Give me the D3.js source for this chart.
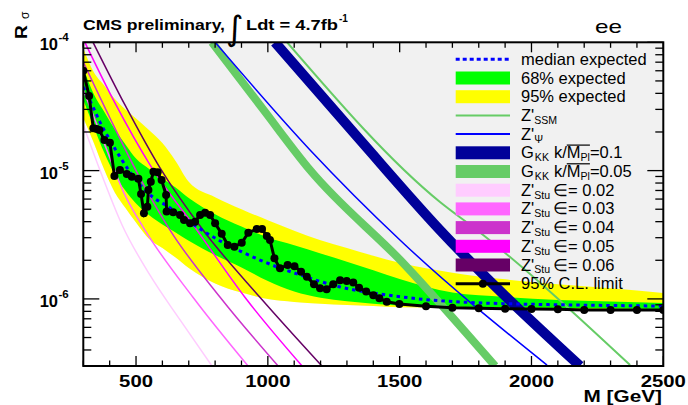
<!DOCTYPE html>
<html>
<head>
<meta charset="utf-8">
<script src="https://cdn.jsdelivr.net/npm/d3@7"></script>
<style>
  html, body { margin: 0; padding: 0; background: #fff; }
  svg { display: block; }
</style>
</head>
<body>
<svg id="chart" width="688" height="405"></svg>
<script>
// ---- observed 95% C.L. limit ----
const obsMass = [300, 322, 338, 351, 361, 380, 401, 418, 439, 465, 484, 509, 519, 530, 543, 547, 556, 566, 582, 597,
  614, 616, 641, 667, 682, 705, 724, 743, 762, 781, 800, 825, 848, 873, 901, 926, 958, 978, 996, 1008,
  1025, 1046, 1075, 1101, 1126, 1148, 1175, 1198, 1223, 1248, 1274, 1299, 1324, 1346, 1373, 1400, 1423, 1451, 1499, 1600,
  1700, 1800, 1900, 2000, 2100, 2200, 2300, 2400, 2500];
const obsLimit = [6.0e-5, 3.81e-5, 2.14e-5, 2.11e-5, 2.07e-5, 1.73e-5, 1.65e-5, 9.08e-6, 1.01e-5, 9.42e-6,
  8.96e-6, 8.65e-6, 6.57e-6, 4.65e-6, 5.23e-6, 7.06e-6, 8.19e-6, 9.79e-6, 9.70e-6, 8.45e-6,
  6.46e-6, 4.79e-6, 4.73e-6, 4.51e-6, 4.12e-6, 3.88e-6, 4.00e-6, 4.51e-6, 4.70e-6, 4.51e-6,
  3.88e-6, 3.22e-6, 2.63e-6, 2.55e-6, 2.74e-6, 3.28e-6, 3.51e-6, 3.51e-6, 3.09e-6, 2.88e-6,
  2.07e-6, 1.73e-6, 1.84e-6, 1.80e-6, 1.63e-6, 1.49e-6, 1.30e-6, 1.21e-6, 1.19e-6, 1.30e-6,
  1.40e-6, 1.38e-6, 1.34e-6, 1.22e-6, 1.14e-6, 1.07e-6, 1.01e-6, 9.51e-7, 9.12e-7, 8.75e-7,
  8.54e-7, 8.45e-7, 8.39e-7, 8.35e-7, 8.30e-7, 8.19e-7, 8.19e-7, 8.19e-7, 8.19e-7];

// ---- median expected limit ----
const medMass = [300, 337, 363, 401, 439, 477, 523, 564, 618, 667, 743, 819, 895, 970, 1046, 1122, 1198, 1274, 1350, 1426, 1502, 1615, 1767, 1957, 2184, 2500];
const medLimit = [4.48e-5, 3.13e-5, 2.39e-5, 1.73e-5, 1.28e-5, 9.75e-6, 7.45e-6, 6.22e-6, 5.30e-6, 4.51e-6, 3.51e-6, 2.83e-6, 2.36e-6, 2.01e-6, 1.74e-6, 1.54e-6, 1.37e-6, 1.24e-6, 1.15e-6, 1.09e-6, 1.04e-6, 9.81e-7, 9.38e-7, 9.12e-7, 8.95e-7, 8.80e-7];

// ---- expected bands (68% and 95%) ----
const bandMass = [300, 340, 380, 420, 460, 500, 550, 600, 650, 700, 800, 900, 1000, 1100, 1200, 1300, 1400, 1500, 1700, 1900, 2100, 2300, 2500];
const band95Up = [9.0e-5, 5.84e-5, 4.59e-5, 3.61e-5, 2.99e-5, 2.55e-5, 2.06e-5, 1.64e-5, 1.19e-5, 8.18e-6, 6.21e-6, 5.00e-6, 4.10e-6, 3.40e-6, 2.87e-6, 2.49e-6, 2.17e-6, 1.91e-6, 1.60e-6, 1.42e-6, 1.30e-6, 1.21e-6, 1.11e-6];
const band68Up = [6.31e-5, 3.94e-5, 2.86e-5, 2.09e-5, 1.60e-5, 1.24e-5, 1.03e-5, 8.69e-6, 7.38e-6, 6.11e-6, 4.56e-6, 3.66e-6, 3.01e-6, 2.62e-6, 2.26e-6, 1.95e-6, 1.67e-6, 1.43e-6, 1.12e-6, 1.035e-6, 9.8e-7, 9.54e-7, 9.29e-7];
const band68Down = [3.55e-5, 2.19e-5, 1.37e-5, 9.25e-6, 6.96e-6, 5.55e-6, 4.48e-6, 3.81e-6, 3.30e-6, 2.84e-6, 2.20e-6, 1.76e-6, 1.38e-6, 1.14e-6, 1.02e-6, 9.57e-7, 9.18e-7, 8.89e-7, 8.69e-7, 8.59e-7, 8.50e-7, 8.42e-7, 8.34e-7];
const band95Down = [2.57e-5, 1.64e-5, 1.01e-5, 6.73e-6, 5.12e-6, 3.94e-6, 2.93e-6, 2.49e-6, 2.10e-6, 1.74e-6, 1.32e-6, 1.12e-6, 9.97e-7, 9.46e-7, 9.18e-7, 8.95e-7, 8.81e-7, 8.61e-7, 8.53e-7, 8.44e-7, 8.34e-7, 8.27e-7, 8.19e-7];

// ---- model predictions ----
const zSsmMass = [1073, 1653, 1793, 2374];
const zSsmR = [1.0e-4, 5.69e-6, 3.44e-6, 3.05e-7];
const zPsiMass = [800, 1160, 1501, 2059];
const zPsiR = [1.0e-4, 1.45e-5, 2.88e-6, 3.05e-7];
const gkk01Mass = [1027, 1350, 1653, 2184];
const gkk01R = [1.0e-4, 1.73e-5, 3.44e-6, 3.0e-7];
const gkk005Mass = [788, 978, 1160, 1520, 1862];
const gkk005R = [1.0e-4, 3.08e-5, 1.01e-5, 1.84e-6, 3.0e-7];
const stu002Mass = [300, 363, 447, 553, 667, 788];
const stu002R = [2.27e-5, 1.01e-5, 3.77e-6, 1.53e-6, 6.86e-7, 3.0e-7];
const stu003Mass = [300, 382, 458, 534, 716, 925];
const stu003R = [4.25e-5, 1.58e-5, 6.45e-6, 3.44e-6, 1.03e-6, 3.0e-7];
const stu004Mass = [300, 401, 515, 629, 819, 1039];
const stu004R = [7.0e-5, 2.57e-5, 8.75e-6, 3.44e-6, 1.03e-6, 3.0e-7];
const stu005Mass = [306, 420, 553, 731, 913, 1130];
const stu005R = [1.0e-4, 3.37e-5, 1.11e-5, 3.44e-6, 1.03e-6, 3.0e-7];
const stu006Mass = [337, 458, 591, 754, 970, 1205];
const stu006R = [1.0e-4, 3.25e-5, 1.05e-5, 3.44e-6, 1.03e-6, 3.0e-7];

// ---- axes ----
const xDomain = [300, 2500];
const yDomain = [3e-7, 1e-4];
const xTickLabels = [500, 1000, 1500, 2000, 2500];
const yTickExponents = [-4, -5, -6];

const FONT = '"Liberation Sans", Arial, Helvetica, sans-serif';
const svg = d3.select('#chart');
const L = 83.3, R = 663.3, T = 42.3, B = 366;
const x = d3.scaleLinear().domain(xDomain).range([L, R]);
const y = d3.scaleLog().domain(yDomain).range([B, T]);

const zip = (ms, vs) => ms.map((m, i) => [m, vs[i]]);

svg.append('defs').append('clipPath').attr('id', 'plotClip')
  .append('rect').attr('x', L).attr('y', T).attr('width', R - L).attr('height', B - T);

const plot = svg.append('g').attr('clip-path', 'url(#plotClip)');

// excluded-region background
plot.append('rect').attr('x', L).attr('y', T).attr('width', R - L).attr('height', B - T).attr('fill', '#f1f1f1');

const bandRows = bandMass.map((m, i) => ({ m, y95u: band95Up[i], y68u: band68Up[i], y68d: band68Down[i], y95d: band95Down[i] }));
const smooth = d3.curveMonotoneX;

// white area below the 95% band
plot.append('path').datum(bandRows)
  .attr('d', d3.area().curve(smooth).x(d => x(d.m)).y0(B + 5).y1(d => y(d.y95d)))
  .attr('fill', '#ffffff');
plot.append('path').datum(bandRows)
  .attr('d', d3.area().curve(smooth).x(d => x(d.m)).y0(d => y(d.y95d)).y1(d => y(d.y95u)))
  .attr('fill', '#ffff00');
plot.append('path').datum(bandRows)
  .attr('d', d3.area().curve(smooth).x(d => x(d.m)).y0(d => y(d.y68d)).y1(d => y(d.y68u)))
  .attr('fill', '#00ff00');

const lineGen = d3.line().curve(smooth).x(d => x(d[0])).y(d => y(d[1]));

// Z'_Stu predictions
[[stu002Mass, stu002R, '#ffccff'], [stu003Mass, stu003R, '#ff66ff'], [stu004Mass, stu004R, '#cc33cc'],
 [stu005Mass, stu005R, '#ff00ff'], [stu006Mass, stu006R, '#660066']].forEach(([ms, vs, c]) => {
  plot.append('path').datum(zip(ms, vs)).attr('d', lineGen)
    .attr('fill', 'none').attr('stroke', c).attr('stroke-width', 1.5);
});

// RS graviton predictions (wide bands)
plot.append('path').datum(zip(gkk005Mass, gkk005R)).attr('d', lineGen)
  .attr('fill', 'none').attr('stroke', '#66cc66').attr('stroke-width', 8);
plot.append('path').datum(zip(gkk01Mass, gkk01R)).attr('d', lineGen)
  .attr('fill', 'none').attr('stroke', '#000099').attr('stroke-width', 10);

// Z' SSM and Z' psi predictions
plot.append('path').datum(zip(zPsiMass, zPsiR)).attr('d', lineGen)
  .attr('fill', 'none').attr('stroke', '#0000ff').attr('stroke-width', 1.5);
plot.append('path').datum(zip(zSsmMass, zSsmR)).attr('d', lineGen)
  .attr('fill', 'none').attr('stroke', '#66cc66').attr('stroke-width', 2);

// median expected
plot.append('path').datum(zip(medMass, medLimit)).attr('d', lineGen)
  .attr('fill', 'none').attr('stroke', '#0000ff').attr('stroke-width', 3).attr('stroke-dasharray', '3.5,4');

// observed limit
const obs = zip(obsMass, obsLimit);
plot.append('path').datum(obs)
  .attr('d', d3.line().x(d => x(d[0])).y(d => y(d[1])))
  .attr('fill', 'none').attr('stroke', '#000').attr('stroke-width', 3);
plot.append('g').selectAll('circle').data(obs).join('circle')
  .attr('cx', d => x(d[0])).attr('cy', d => y(d[1])).attr('r', 4).attr('fill', '#000');

// ---- legend ----
// lays out text pieces one after another; subscripts are smaller and lowered,
// pieces flagged "over" get a bar drawn above them
function richText(g, x0, y0, segs, size, weight) {
  let cx = x0;
  const placed = [];
  segs.forEach(s => {
    cx += (s.pre || 0);
    const fs = s.sub ? size * 0.64 : size;
    const dy = s.sub ? size * 0.18 : 0;
    const t = g.append('text').attr('x', cx).attr('y', y0 + dy)
      .attr('font-family', FONT).attr('font-size', fs).attr('font-weight', weight).attr('fill', '#000')
      .text(s.t);
    const w = t.node().getComputedTextLength();
    placed.push({ x: cx, w, s });
    cx += w;
  });
  const ov = placed.filter(p => p.s.over);
  if (ov.length) {
    const last = ov[ov.length - 1];
    g.append('line').attr('x1', ov[0].x).attr('x2', last.x + last.w)
      .attr('y1', y0 - size * 0.8).attr('y2', y0 - size * 0.8)
      .attr('stroke', '#000').attr('stroke-width', 1.2);
  }
  return cx;
}

const legendEntries = [
  { kind: 'dash', color: '#0000ff', label: [{ t: 'median expected' }] },
  { kind: 'box', color: '#00ff00', label: [{ t: '68% expected' }] },
  { kind: 'box', color: '#ffff00', label: [{ t: '95% expected' }] },
  { kind: 'line', color: '#66cc66', label: [{ t: "Z'" }, { t: 'SSM', sub: 1 }] },
  { kind: 'line', color: '#0000ff', label: [{ t: "Z'" }, { t: 'Ψ', sub: 1 }] },
  { kind: 'box', color: '#000099', label: [{ t: 'G' }, { t: 'KK', sub: 1, pre: 1 }, { t: 'k/', pre: 5 }, { t: 'M', over: 1 }, { t: 'Pl', sub: 1, over: 1 }, { t: '=0.1' }] },
  { kind: 'box', color: '#66cc66', label: [{ t: 'G' }, { t: 'KK', sub: 1, pre: 1 }, { t: 'k/', pre: 5 }, { t: 'M', over: 1 }, { t: 'Pl', sub: 1, over: 1 }, { t: '=0.05' }] },
  { kind: 'box', color: '#ffccff', label: [{ t: "Z'" }, { t: 'Stu', sub: 1 }, { t: '∈= 0.02', pre: 3 }] },
  { kind: 'box', color: '#ff66ff', label: [{ t: "Z'" }, { t: 'Stu', sub: 1 }, { t: '∈= 0.03', pre: 3 }] },
  { kind: 'box', color: '#cc33cc', label: [{ t: "Z'" }, { t: 'Stu', sub: 1 }, { t: '∈= 0.04', pre: 3 }] },
  { kind: 'box', color: '#ff00ff', label: [{ t: "Z'" }, { t: 'Stu', sub: 1 }, { t: '∈= 0.05', pre: 3 }] },
  { kind: 'box', color: '#660066', label: [{ t: "Z'" }, { t: 'Stu', sub: 1 }, { t: '∈= 0.06', pre: 3 }] },
  { kind: 'marker', color: '#000', label: [{ t: '95% C.L. limit' }] }
];

const legend = svg.append('g');
const legX0 = 455.7, legX1 = 510, legText = 521, legTop = 59.3, legStep = 18.7;
legendEntries.forEach((e, i) => {
  const cy = legTop + i * legStep;
  if (e.kind === 'box') {
    legend.append('rect').attr('x', legX0).attr('y', cy - 6.5).attr('width', legX1 - legX0).attr('height', 13).attr('fill', e.color);
  } else if (e.kind === 'dash') {
    legend.append('line').attr('x1', legX0).attr('x2', legX1).attr('y1', cy).attr('y2', cy)
      .attr('stroke', e.color).attr('stroke-width', 3).attr('stroke-dasharray', '4,3');
  } else if (e.kind === 'line') {
    legend.append('line').attr('x1', legX0).attr('x2', legX1).attr('y1', cy).attr('y2', cy)
      .attr('stroke', e.color).attr('stroke-width', 2);
  } else {
    legend.append('line').attr('x1', legX0).attr('x2', legX1).attr('y1', cy).attr('y2', cy)
      .attr('stroke', '#000').attr('stroke-width', 3);
    legend.append('circle').attr('cx', (legX0 + legX1) / 2).attr('cy', cy).attr('r', 4).attr('fill', '#000');
  }
  richText(legend, legText, cy + 5.5, e.label, 16.5, 'normal');
});

// ---- frame and ticks ----
const axes = svg.append('g').attr('stroke', '#000');
const xMinor = d3.range(300, 2501, 100);
xMinor.forEach(m => {
  const major = m % 500 === 0;
  const len = major ? 10 : 5.5;
  axes.append('line').attr('x1', x(m)).attr('x2', x(m)).attr('y1', B).attr('y2', B - len).attr('stroke-width', 1.3);
  axes.append('line').attr('x1', x(m)).attr('x2', x(m)).attr('y1', T).attr('y2', T + len).attr('stroke-width', 1.3);
});
const yTicks = [];
for (let d = -7; d <= -4; d++) for (let k = 1; k <= 9; k++) {
  const v = k * Math.pow(10, d);
  if (v >= yDomain[0] * 0.999 && v <= yDomain[1] * 1.001) yTicks.push({ v, major: k === 1 });
}
yTicks.forEach(t => {
  const len = t.major ? 16 : 8;
  axes.append('line').attr('x1', L).attr('x2', L + len).attr('y1', y(t.v)).attr('y2', y(t.v)).attr('stroke-width', 1.3);
  axes.append('line').attr('x1', R).attr('x2', R - len).attr('y1', y(t.v)).attr('y2', y(t.v)).attr('stroke-width', 1.3);
});
axes.append('rect').attr('x', L).attr('y', T).attr('width', R - L).attr('height', B - T)
  .attr('fill', 'none').attr('stroke-width', 2);

// ---- tick labels ----
function stretched(g, tx, ty, txt, size, weight, sx, anchor) {
  return g.append('text').attr('transform', `translate(${tx},${ty}) scale(${sx},1)`)
    .attr('text-anchor', anchor || 'start').attr('font-family', FONT)
    .attr('font-size', size).attr('font-weight', weight).attr('fill', '#000').text(txt);
}
const labels = svg.append('g');
xTickLabels.forEach(m => stretched(labels, x(m), 386.5, String(m), 16, 'bold', 1.27, 'middle'));
yTickExponents.forEach(e => {
  const ty = y(Math.pow(10, e));
  labels.append('text').attr('x', 58).attr('y', ty + 8).attr('text-anchor', 'end')
    .attr('font-family', FONT).attr('font-size', 16.5).attr('font-weight', 'bold').text('10');
  labels.append('text').attr('x', 58.5).attr('y', ty - 1)
    .attr('font-family', FONT).attr('font-size', 11.5).attr('font-weight', 'bold').text('-' + Math.abs(e));
});

// axis titles
stretched(labels, 662, 401.5, 'M [GeV]', 16, 'bold', 1.3, 'end');
const yTitle = labels.append('g').attr('transform', 'translate(27,39) rotate(-90)');
yTitle.append('text').attr('x', 0).attr('y', 0).attr('font-family', FONT).attr('font-size', 16)
  .attr('font-weight', 'bold').attr('transform', 'scale(1.2,1)').text('R');
yTitle.append('text').attr('x', 20).attr('y', 1.5).attr('font-family', FONT).attr('font-size', 12).text('σ');

// header
labels.append('text').attr('x', 83).attr('y', 29.5).attr('font-family', FONT).attr('font-size', 14.5)
  .attr('font-weight', 'bold').attr('textLength', 142).attr('lengthAdjust', 'spacingAndGlyphs').text('CMS preliminary,');
labels.append('text').attr('x', 226).attr('y', 40).attr('font-family', '"DejaVu Sans", sans-serif')
  .attr('font-size', 34).attr('font-weight', 'normal').text('∫');
labels.append('text').attr('x', 246).attr('y', 29.5).attr('font-family', FONT).attr('font-size', 14.5)
  .attr('font-weight', 'bold').attr('textLength', 92).attr('lengthAdjust', 'spacingAndGlyphs').text('Ldt = 4.7fb');
labels.append('text').attr('x', 339).attr('y', 21.5).attr('font-family', FONT).attr('font-size', 10)
  .attr('font-weight', 'bold').text('-1');
labels.append('text').attr('x', 595).attr('y', 33).attr('font-family', FONT).attr('font-size', 18.5)
  .attr('textLength', 27).attr('lengthAdjust', 'spacingAndGlyphs').text('ee');
</script>
</body>
</html>
